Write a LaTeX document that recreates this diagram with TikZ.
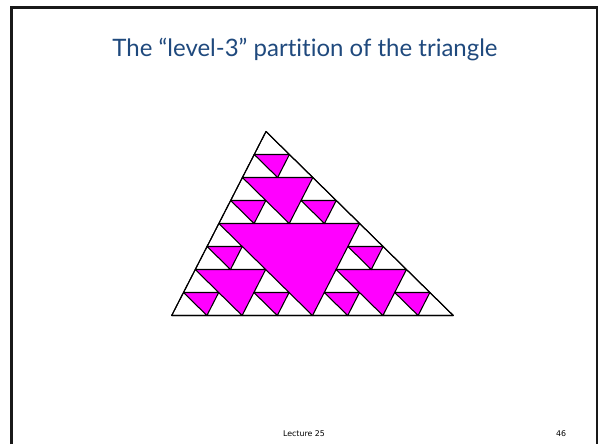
\documentclass[tikz,border=0pt]{standalone}
\usepackage{fontspec}
\setmainfont{Lato}[Ligatures=NoCommon]
\newfontfamily\footfont{DejaVu Sans}
\usetikzlibrary{positioning,calc}
\definecolor{titleblue}{HTML}{1F497D}
\definecolor{holemagenta}{HTML}{FF00FF}

\begin{document}
\begin{tikzpicture}[x=0.75pt, y=-0.75pt,
    frameLine/.style={line width=2.2pt, draw=black!90},
    titleText/.style={font=\fontsize{18}{21}\selectfont, text=titleblue, inner sep=0pt, anchor=base},
    footText/.style={font=\footfont\fontsize{5.9}{7}\selectfont, inner sep=0pt},
    cellStyle/.style={fill=white, draw=black, line width=0.8pt, line join=round}
]
    \useasboundingbox (0,0) rectangle (600,444);
    \draw[frameLine] (11.5,444) -- (11.5,7.5) -- (597,7.5) -- (597,444);

    \node[titleText] (title) at (305,56.5) {The “level-3” partition of the triangle};

    % outer triangle, holes show through in magenta
    \coordinate (A) at (171.7,315.5);
    \coordinate (B) at (453.3,315.5);
    \coordinate (C) at (266,131.5);
    \fill[holemagenta] (A) -- (B) -- (C) -- cycle;

    % the 27 upright cells of level 3
    \foreach \ia/\ja in {0/0,4/0,0/4}
      \foreach \ib/\jb in {0/0,2/0,0/2}
        \foreach \ic/\jc in {0/0,1/0,0/1} {
          \pgfmathtruncatemacro\ci{\ia+\ib+\ic}
          \pgfmathtruncatemacro\cj{\ja+\jb+\jc}
          \pgfmathtruncatemacro\ck{8-\ci-\cj}
          \pgfmathtruncatemacro\cl{7-\ci-\cj}
          \pgfmathtruncatemacro\cip{\ci+1}
          \pgfmathtruncatemacro\cjp{\cj+1}
          \draw[cellStyle] (barycentric cs:A=\ck,B=\ci,C=\cj)
            -- (barycentric cs:A=\cl,B=\cip,C=\cj)
            -- (barycentric cs:A=\cl,B=\ci,C=\cjp) -- cycle;
        }
    \draw[line width=0.8pt, line join=round] (A) -- (B) -- (C) -- cycle;

    \node[footText] (lecture) at (304,434) {Lecture 25};
    \node[footText] (page) at (561,434) {46};
\end{tikzpicture}
\end{document}
